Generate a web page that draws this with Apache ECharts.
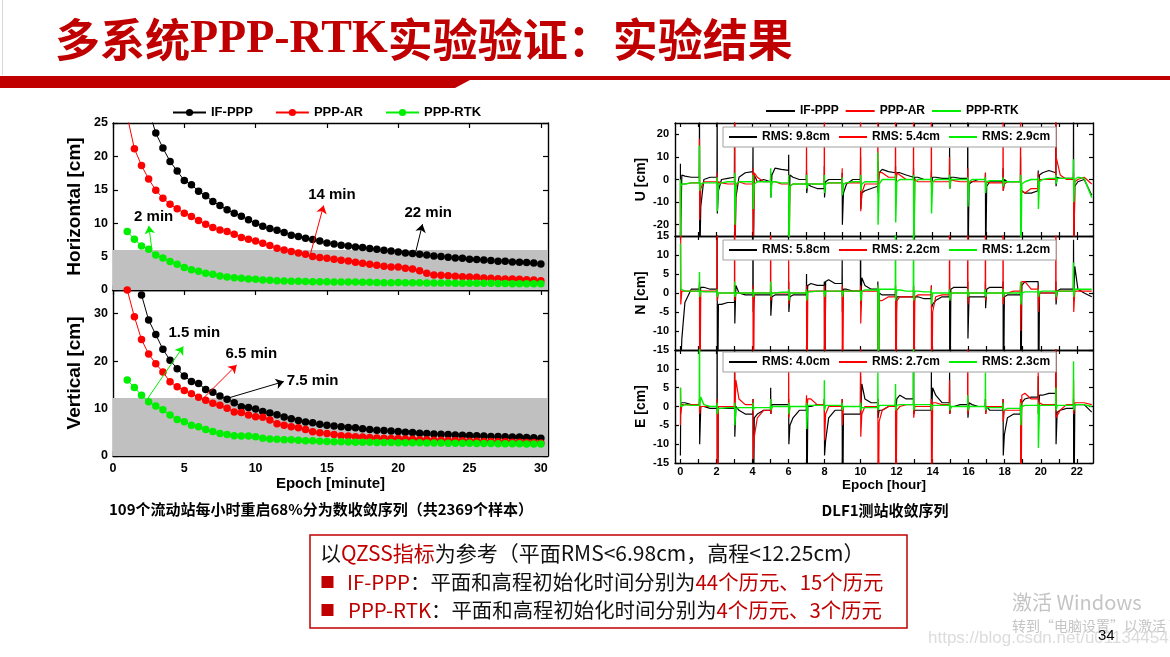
<!DOCTYPE html>
<html><head><meta charset="utf-8">
<script src="https://cdn.jsdelivr.net/npm/echarts@6.0.0/dist/echarts.min.js"></script>
<style>html,body{margin:0;padding:0;background:#fff;}#c{width:1170px;height:657px;}</style>
</head><body><div id="c"></div>
<script>
// ---------- Left chart: convergence (68% error) vs epoch [minute] ----------
const hEpoch = [1,1.5,2,2.5,3,3.5,4,4.5,5,5.5,6,6.5,7,7.5,8,8.5,9,9.5,10,10.5,11,11.5,12,12.5,13,13.5,14,14.5,15,15.5,16,16.5,17,17.5,18,18.5,19,19.5,20,20.5,21,21.5,22,22.5,23,23.5,24,24.5,25,25.5,26,26.5,27,27.5,28,28.5,29,29.5,30];
const horizIF  = [null,null,31,27,23.5,21.25,19.25,17.8,16.4,15.75,14.8,14.1,13.25,12.65,12.0,11.5,11.05,10.5,10.0,9.55,9.2,8.95,8.6,8.2,8.0,7.75,7.55,7.35,7.05,6.9,6.7,6.6,6.45,6.35,6.2,6.1,5.95,5.85,5.7,5.55,5.45,5.35,5.25,5.1,5.0,4.9,4.8,4.75,4.6,4.55,4.5,4.4,4.3,4.3,4.2,4.15,4.1,4.05,3.9];
const horizAR  = [26,21.15,18.65,16.6,14.95,13.75,12.85,12.15,11.5,11.0,10.4,9.85,9.35,9.0,8.75,8.35,7.85,7.6,7.35,7.0,6.65,6.25,6.0,5.75,5.55,5.35,5.0,4.85,4.75,4.6,4.45,4.35,4.15,4.0,3.85,3.7,3.55,3.45,3.45,3.25,3.15,2.9,2.5,2.25,2.2,2.15,2.05,2.0,1.95,1.9,1.8,1.75,1.7,1.65,1.65,1.6,1.55,1.5,1.4];
const horizRTK = [8.75,7.6,6.6,6.1,5.25,4.8,4.25,3.85,3.35,3.05,2.8,2.5,2.35,2.1,1.95,1.85,1.75,1.65,1.6,1.5,1.45,1.4,1.35,1.3,1.3,1.28,1.25,1.25,1.22,1.2,1.2,1.2,1.18,1.15,1.15,1.12,1.1,1.1,1.12,1.1,1.1,1.08,1.05,1.05,1.05,1.03,1.0,1.0,1.0,1.0,1.0,1.0,0.98,0.98,0.95,0.95,0.95,0.95,0.95];
const vertIF   = [null,null,33.95,28.65,25.6,22.5,20.2,18.4,16.85,15.7,15.3,14.0,13.45,12.65,11.95,11.25,10.4,10.25,9.9,9.4,9.05,8.7,8.2,7.85,7.5,7.15,7.0,6.7,6.5,6.3,6.15,6.0,5.95,5.75,5.6,5.45,5.4,5.25,5.15,5.0,4.95,4.8,4.75,4.65,4.6,4.55,4.45,4.4,4.3,4.25,4.2,4.1,4.1,4.05,4.0,4.0,3.9,3.85,3.75];
const vertAR   = [35,29.35,24.55,21.5,19.45,17.7,15.65,14.6,13.8,13.1,12.4,11.75,11.1,10.7,10.05,9.3,9.15,8.65,8.3,8.15,7.6,6.8,6.5,6.15,5.95,5.6,5.1,4.9,4.75,4.55,4.25,4.2,4.05,4.0,3.9,3.8,3.75,3.7,3.7,3.6,3.55,3.45,3.4,3.3,3.3,3.25,3.25,3.2,3.1,3.1,3.05,3.05,3.0,3.0,2.9,2.9,2.85,2.85,2.75];
const vertRTK  = [16.0,14.45,12.8,11.45,10.55,9.75,8.65,7.7,7.2,6.5,6.15,5.6,5.15,4.75,4.55,4.25,4.2,4.2,4.05,3.75,3.6,3.55,3.45,3.4,3.3,3.2,3.2,3.1,3.05,3.0,3.0,2.95,2.9,2.9,2.9,2.85,2.85,2.85,2.8,2.8,2.8,2.8,2.75,2.75,2.75,2.7,2.7,2.7,2.7,2.65,2.65,2.65,2.6,2.6,2.6,2.6,2.55,2.55,2.55];
const bandH = [0, 6];        // QZSS horizontal threshold band
const bandV = [0, 12.25];    // QZSS vertical threshold band
const minuteLabels = [0,5,10,15,20,25,30];
const horizLabels = [0,5,10,15,20,25];
const vertLabels = [0,10,20,30];
const hArrows = [{from:[2.72,6.15],to:[2.51,9.6],color:'#00ee00'},{from:[13.84,5.35],to:[14.77,12.65],color:'#ff0000'},{from:[21.23,5.75],to:[21.7,9.85],color:'#000000'}];
const hNotes  = [{text:'2 min',at:[2.85,10.95]},{text:'14 min',at:[15.35,14.2]},{text:'22 min',at:[22.1,11.5]}];
const vArrows = [{from:[2.44,12.17],to:[4.93,23.1],color:'#00ee00'},{from:[6.33,12.17],to:[8.67,19.2],color:'#ff0000'},{from:[8.02,12.17],to:[11.98,15.7],color:'#000000'}];
const vNotes  = [{text:'1.5 min',at:[5.7,26.0]},{text:'6.5 min',at:[9.7,21.5]},{text:'7.5 min',at:[14.0,15.9]}];

// ---------- Right chart: DLF1 time series [hour] ----------
const T = [
0,.01,.02,.08,.25,.6,
1.05,1.06,1.07,1.13,1.3,1.65,
2.03,2.04,2.05,2.11,2.28,2.63,
3,3.01,3.02,3.08,3.25,3.6,
4.02,4.03,4.04,4.1,4.27,4.62,
5,5.01,5.02,5.08,5.25,5.6,
6,6.01,6.02,6.08,6.25,6.6,
6.99,7,7.01,7.07,7.24,7.59,
7.98,7.99,8,8.06,8.23,8.58,
8.97,8.98,8.99,9.05,9.22,9.57,
9.99,10,10.01,10.07,10.24,10.59,
10.95,10.96,10.97,11.03,11.2,11.55,
11.93,11.94,11.95,12.01,12.18,12.53,
12.93,12.94,12.95,13.01,13.18,13.53,
13.92,13.93,13.94,14,14.17,14.52,
14.93,14.94,14.95,15.01,15.18,15.53,
15.94,15.95,15.96,16.02,16.19,16.54,
16.92,16.93,16.94,17,17.17,17.52,
17.9,17.91,17.92,17.98,18.15,18.5,
18.87,18.88,18.89,18.95,19.12,19.47,
19.85,19.86,19.87,19.93,20.1,20.45,
20.83,20.84,20.85,20.91,21.08,21.43,
21.81,21.82,21.83,21.89,22.06,22.41,
22.83];
const uIF = [7,-40,-20,2,1.5,1, 1,40,-40,-12,0,1, 1,40,-15,-5,0,0.5, 1,40,-40,-8,1,3, 3.5,18,-40,2,-1,0, -1,3,-8,2,5,4.5, 4,11,-25,2,1,0, 0,4,-6,-2,-3,-4, -4,6,-8,-1,0,0, 0,3,-20,-6,-2,0, 0,10,-13,-6,-5,-4, -3,8,-6,3,4.5,3.5, 3,6,-4,3,3,2, 1,5,-5,1,1,0, 0,4,-3,1,1,0.5, 0.5,14,-4,1,1,0.5, 0.5,40,-40,-2,-1,0, 0,3,-40,-3,-1,-1, -1,5,-5,0,-1,-1, -1,10,-8,-5,-6,-6, -5,4,-4,2,3,4, 3,40,-3,1,0.5,0.5, 0.5,40,-40,-3,-1,0, -7];
const uAR = [-5,-40,-3,-2,-2,-1.5, -1.5,18,-18,-4,-1,-1, -1,3,-3,-1,-1.5,-2, -2,40,-40,-3,-1,-2, -2,5,-40,3,1,-1, -1,2,-4,-1,-1,-2, -2,2,-40,-3,-2,-2, -2,23,-4,-2,-2,-2, -2,40,-5,-2,-1.5,-1.5, -1.5,5,-5,-2,-1.5,-1.5, -1.5,40,-14,-6,-2,-2, -2,40,-5,3,3,1, 1,40,-3,3,2,0, 0,40,-40,0,-1,-1, -1,40,-4,-1,-1,-1, -1,10,-4,0,-0.5,-1, -1,5,-5,-1,-1,-1, -1,3,-3,-1,-1.5,-1.5, -1.5,40,-5,-2,-1,-1, -1,40,-8,-5,-6,-4, -4,3,-3,0,0,0, 0,40,10,8,2,0, 0,3,-40,-1,0,1, -2];
const uRTK = [0,-40,-3,-2,-2,-1.5, -1.5,15,-5,-2,-1.5,-1.5, -1.5,1,-14,-2,-1.5,-1, -1,3,-20,-2,-1,-1, -1,2,-13,-2,-1,-1, -1,5,-8,-1,-1,-1.5, -1.5,2,-40,-3,-2,-2, -2,2,-4,-2,-2,-2, -2,2,-6,-2,-1.5,-1.5, -1.5,1,-7,-2,-1.5,-1, -1,2,-5,-2,-1,-1, -1,12,-20,-2,0,0, 0,2,-19,-1,0,0, 0,2,-40,-1,0,0, 0,1,-15,-1,0,0, 0,2,-4,0,0,0, 0,1,-12,-1,0,0, 0,1,-6,-1,-0.5,-0.5, -0.5,1,-3,-1,-1,-1, -1,2,-40,-2,-1,0, 0,1,-13,-1,0,0.5, 0.5,2,-2,0.5,0.5,0.5, 0.5,9,-10,0,1,0.5, -8];
const nIF = [-40,-40,-20,-12,-2.5,1, 1,3,-2,1.5,1.5,1, 1,40,-40,-3,-3,-2.5, -2.5,2,-8,2,0,-0.5, -0.5,40,-5,-0.5,-0.5,-0.5, -0.5,2,-6,-1,-0.5,-0.5, -0.5,3,-5,-1,-0.5,-0.5, -0.5,5,-3,2,2.5,2, 2,3,-40,3,3.5,2.5, 2.5,9,-5,1,1,0.5, 0.5,40,-3,4,2,1, 1,3,-40,0,-0.5,-0.5, -0.5,2,-13,-1,-1,-1, -1,2,-5,-1,-1,-1.5, -1.5,2,-4,-3,-2,-1, -1,3,-40,1,1.5,1.5, 1.5,3,-12,-1,-1,-1, -1,3,-4,1,1.5,1.5, 1.5,3,-40,-1,-0.5,-0.5, -0.5,2,-40,2,3,3, 3,2,-40,0,0,0, 0,3,-3,0.5,1,1, 1,14,-2,7,1,0, -1];
const nAR = [15,40,-3,0.5,0.5,0.5, 0.5,2,-40,0.5,0.5,0.5, 0.5,40,-2,0,0,0, 0,40,-2,0,0,0, 0,2,-40,0,0,0, 0,40,-2,0,0,0, 0,10,-3,0,0,0, 0,2,-40,0.5,0.5,0.5, 0.5,2,-40,0.5,0.5,0.5, 0.5,2,-40,0.5,0.5,0.5, 0.5,2,-8,0.5,0.5,0.5, 0.5,2,-40,-2,-2,-1, -1,2,-40,-2,-1,-1, -1,2,-40,-1,-0.5,-0.5, -0.5,2,-40,-5,-1,-0.5, -0.5,40,-2,0,0,0, 0,40,-3,0,0,0, 0,40,-2,0,0,0, 0,40,-3,0,0,0.5, 0.5,2,-10,3,3,1, 1,2,-5,0,0,0, 0,40,-2,0.5,0.5,0.5, 0.5,2,-5,0.5,0.5,0.5, 0.5];
const nRTK = [13,13,1,0.5,0.5,0.5, 0.5,5.5,-1,0.5,0.3,0.3, 0.3,1,-1,0,0,0, 0,3,-1,0,0,0, 0,1,-1,0,0,0, 0,3,-1,0,0,0.2, 0.2,1,-2,0,0,0, 0,1,-2,0.3,0.3,0.5, 0.5,1,-1,0.5,0.5,0.5, 0.5,1,-1,0.5,0.5,0.5, 0.5,1,-2,0.5,0.8,0.8, 0.8,2,-40,1,1,1, 1,40,-2,0.8,0.8,0.5, 0.5,40,-2,0.5,0.5,0.3, 0.3,1,-3,0,0,0, 0,1,-2,0,0,0, 0,1,-1,0,0,0, 0,1,-1,0,0,0, 0,1,-1,0,0,0, 0,3,-3,0,0.3,0.3, 0.3,1,-1,0.3,0.5,0.5, 0.5,1,-1,0.5,0.5,0.5, 0.5,8,-1,1,1,1, 1];
const eIF = [-13,-5,1,1,1,0.5, 0.5,2,-10,0,0,-0.5, -0.5,40,-40,-0.5,-0.5,-0.5, -0.5,40,-8,0,-1,-2, -2,2,-40,-3,-2,-1, -1,5,-2,0.5,0.5,0.5, 0.5,2,-10,-5,-3,-1, -1,2,-40,0,0,0.5, 0.5,2,-13,-9,-3,-1, -1,2,-40,-2,-2,-2, -2,8,-2,6,2,1, 1,2,-3,-1,-1,0, 0,2,-2,2,3,2, 2,40,-2,-1,-1,-1, -1,10,-2,5,3,1, 1,9,-2,0,0,0.5, 0.5,2,-3,1,0.5,0, 0,2,-2,0,-1,-1, -1,2,-13,-7.5,-3,-2, -2,2,-4,1,2,2.5, 2.5,8,-2,3,3,3.5, 3.5,40,-10,-1.5,-1,-0.5, -0.5,2,-40,0.5,0.5,0.5, -1.5];
const eAR = [-5,5,-2,0.5,0.5,0.5, 0.5,2,-2,0,0,0, 0,2,-40,0,0,0, 0,10,-2,7,2,0.5, 0.5,2,-14,-8,-3,-1, -1,2,-2,0,0,0, 0,11,-3,0,0,0, 0,3,-2,2,2,0.5, 0.5,2,-9,-2,0,0, 0,2,-5,0,0,0, 0,40,-8,-2,0,0, 0,2,-40,-4,-1,0, 0,2,-40,-1,0,0.5, 0.5,2,-3,0,0,0, 0,2,-40,1,1,0.5, 0.5,7,-2,0,0,0, 0,40,-2,0,0,0, 0,2,-2,0,0,0, 0,2,-4,-1,-1,-1, -1,2,-40,3,3.5,2, 2,9,-2,1,0.5,0.5, 0.5,40,-3,-3,-1,0.5, 0.5,7,-2,1,1,1, 0.5];
const eRTK = [5,5,0,0.5,0.5,0.3, 0.3,40,0,2.5,0.5,0, 0,1,-2,-0.5,-0.5,-0.3, -0.3,1,-5,-0.5,-0.3,-0.3, -0.3,1,-1,-0.3,-0.3,-0.3, -0.3,2,-1,0,0,0, 0,1,-2,0,0,0, 0,1,-6,0.3,0.3,0.3, 0.3,7,-1,0.3,0.3,0.3, 0.3,1,-1,0,0,0, 0,1,-1,-0.3,-0.3,-0.3, -0.3,9,-1,0.3,0.3,0.3, 0.3,6,-1,0.3,0.5,0.5, 0.5,40,-1,0.5,0.5,0.5, 0.5,1,-1,0.3,0.3,0.3, 0.3,1,-1,0,0,0, 0,3,-1,0,0,0, 0,9,-1,-0.3,-0.3,-0.3, -0.3,1,-1,-0.5,-0.5,-0.5, -0.5,1,-5,0,0.3,0.3, 0.3,1,-11,0.3,0.3,0.3, 0.3,5,-1,0.3,0.3,0.3, 0.3,12,-1,0.5,0.5,0.5, 0];
const hourLabels = [0,2,4,6,8,10,12,14,16,18,20,22];
const hourTicks = [0,1,2,3,4,5,6,7,8,9,10,11,12,13,14,15,16,17,18,19,20,21,22];
const uLabels = [-20,-10,0,10,20];
const nLabels = [-15,-10,-5,0,5,10,15];
const eLabels = [-15,-10,-5,0,5,10];
const methodNames = ['IF-PPP','PPP-AR','PPP-RTK'];
const rmsU = ['RMS: 9.8cm','RMS: 5.4cm','RMS: 2.9cm'];
const rmsN = ['RMS: 5.8cm','RMS: 2.2cm','RMS: 1.2cm'];
const rmsE = ['RMS: 4.0cm','RMS: 2.7cm','RMS: 2.3cm'];

// ---------- build ----------
const LAT = "'Liberation Sans', Arial, sans-serif";
const CJK = "'Noto Sans CJK SC', sans-serif";
const COLORS = ['#000000', '#ff0000', '#00ee00'];
const zip = (xs, ys) => xs.map((x, i) => [x, ys[i] == null ? null : ys[i]]);

const grids = [
  {left:113, top:123, width:435, height:167},
  {left:113, top:290, width:435, height:166},
  {left:675, top:123, width:418, height:113},
  {left:675, top:236, width:418, height:114},
  {left:675, top:350, width:418, height:113}
];
const xAxes = [], yAxes = [];
function frame(gi, xr, xLab, xTk, yr, yLab, yTk, c) {
  const line = {show:true, onZero:false, lineStyle:{color:'#000', width:1.4}};
  const tick = (v) => ({show:true, inside:true, length:c.tl, customValues:v, lineStyle:{color:'#000', width:1.2}});
  const lab = (show, v, m) => ({show, customValues:v, color:'#000', fontWeight:'bold', fontSize:c.fs, fontFamily:LAT, margin:m});
  const nameStyle = (fs) => ({color:'#000', fontWeight:'bold', fontSize:fs, fontFamily:LAT});
  xAxes.push({type:'value', gridIndex:gi, min:xr[0], max:xr[1], position:'bottom', axisLine:line, axisTick:tick(xTk),
    axisLabel:lab(!!c.xName, xLab, c.xm), splitLine:{show:false},
    name:c.xName || '', nameLocation:'middle', nameGap:c.xGap || 0, nameTextStyle:nameStyle(c.xfs || 14)});
  xAxes.push({type:'value', gridIndex:gi, min:xr[0], max:xr[1], position:'top', axisLine:line, axisTick:tick(xTk),
    axisLabel:{show:false}, splitLine:{show:false}});
  yAxes.push({type:'value', gridIndex:gi, min:yr[0], max:yr[1], position:'left', axisLine:line, axisTick:tick(yTk),
    axisLabel:lab(true, yLab, c.ym), splitLine:{show:false},
    name:c.yName, nameLocation:'middle', nameGap:c.yGap, nameRotate:90, nameTextStyle:nameStyle(c.yfs)});
  yAxes.push({type:'value', gridIndex:gi, min:yr[0], max:yr[1], position:'right', axisLine:line, axisTick:tick(yTk),
    axisLabel:{show:false}, splitLine:{show:false}});
}
frame(0, [0,30.5], minuteLabels, minuteLabels, [0,25], horizLabels, horizLabels, {tl:5, fs:12.5, xm:6, ym:5, yName:'Horizontal [cm]', yGap:29, yfs:19});
frame(1, [0,30.5], minuteLabels, minuteLabels, [0,35], vertLabels, vertLabels, {tl:5, fs:12.5, xm:6, ym:5, xName:'Epoch [minute]', xGap:18, xfs:15, yName:'Vertical [cm]', yGap:29, yfs:19});
frame(2, [-0.3,22.9], hourLabels, hourTicks, [-25,25], uLabels, uLabels, {tl:4, fs:11, xm:3, ym:6, yName:'U [cm]', yGap:27, yfs:14});
frame(3, [-0.3,22.9], hourLabels, hourTicks, [-15,15], nLabels, nLabels, {tl:4, fs:11, xm:3, ym:6, yName:'N [cm]', yGap:27, yfs:14});
frame(4, [-0.3,22.9], hourLabels, hourTicks, [-15,15], eLabels, nLabels, {tl:4, fs:11, xm:3, ym:6, xName:'Epoch [hour]', xGap:14, xfs:13.5, yName:'E [cm]', yGap:27, yfs:14});

const series = [];
function band(gi, b) {
  series.push({type:'line', xAxisIndex:2*gi, yAxisIndex:2*gi, data:[], z:1, silent:true,
    markArea:{silent:true, itemStyle:{color:'#c0c0c0'}, data:[[{yAxis:b[0]},{yAxis:b[1]}]]}});
}
function anno(gi, arrows, notes) {
  series.push({type:'line', xAxisIndex:2*gi, yAxisIndex:2*gi, data:[], z:10, silent:true,
    markLine:{silent:true, symbol:['none','arrow'], symbolSize:8, label:{show:false}, animation:false,
      data: arrows.map(a => [{coord:a.from, lineStyle:{color:a.color, width:1, type:'solid'}, itemStyle:{color:a.color}}, {coord:a.to}])},
    markPoint:{silent:true, symbol:'circle', symbolSize:1, itemStyle:{color:'rgba(0,0,0,0)'}, animation:false,
      label:{show:true, position:'inside', formatter:p => p.name, color:'#000', fontWeight:'bold', fontSize:15, fontFamily:LAT},
      data: notes.map(n => ({name:n.text, coord:n.at}))}});
}
function dots(gi, arrs) {
  arrs.forEach((a, k) => series.push({name:methodNames[k], type:'line', xAxisIndex:2*gi, yAxisIndex:2*gi,
    data:zip(hEpoch, a), symbol:'circle', symbolSize:7.5, showAllSymbol:true, lineStyle:{color:COLORS[k], width:1},
    itemStyle:{color:COLORS[k]}, z:3, emphasis:{disabled:true}}));
}
function traces(gi, prefix, arrs) {
  arrs.forEach((a, k) => series.push({name:prefix + k, type:'line', xAxisIndex:2*gi, yAxisIndex:2*gi,
    data:zip(T, a), symbol:'none', lineStyle:{color:COLORS[k], width:k === 2 ? 1.4 : 1.2}, itemStyle:{color:COLORS[k]},
    z:3, emphasis:{disabled:true}}));
}
band(0, bandH); band(1, bandV);
dots(0, [horizIF, horizAR, horizRTK]);
dots(1, [vertIF, vertAR, vertRTK]);
anno(0, hArrows, hNotes); anno(1, vArrows, vNotes);
traces(2, 'U', [uIF, uAR, uRTK]);
traces(3, 'N', [nIF, nAR, nRTK]);
traces(4, 'E', [eIF, eAR, eRTK]);

const legTxt = (fs) => ({fontFamily:LAT, fontWeight:'bold', fontSize:fs, color:'#000'});
const rectItems = (p) => [0,1,2].map(k => ({name:p + k, icon:'rect'}));
const legends = [
  {data:methodNames, left:172, top:106, itemWidth:33, itemHeight:9, itemGap:22, padding:0, selectedMode:false, textStyle:legTxt(13)},
  {data:rectItems('U'), formatter:n => methodNames[+n.slice(1)], left:766, top:105, itemWidth:29, itemHeight:2, itemGap:7, padding:0, selectedMode:false, textStyle:legTxt(12)},
  {data:rectItems('U'), formatter:n => rmsU[+n.slice(1)], left:723, top:127, itemWidth:28, itemHeight:2, itemGap:9, padding:[4,6], selectedMode:false, textStyle:legTxt(12), borderColor:'#a0a0a0', borderWidth:1, backgroundColor:'#fff'},
  {data:rectItems('N'), formatter:n => rmsN[+n.slice(1)], left:723, top:240, itemWidth:28, itemHeight:2, itemGap:9, padding:[4,6], selectedMode:false, textStyle:legTxt(12), borderColor:'#a0a0a0', borderWidth:1, backgroundColor:'#fff'},
  {data:rectItems('E'), formatter:n => rmsE[+n.slice(1)], left:723, top:352, itemWidth:28, itemHeight:2, itemGap:9, padding:[4,6], selectedMode:false, textStyle:legTxt(12), borderColor:'#a0a0a0', borderWidth:1, backgroundColor:'#fff'}
];

const RED = '#c00000';
const bodyFs = 21;
const subFs = 20.4;
const graphics = [
  {type:'line', shape:{x1:2.5, y1:0, x2:2.5, y2:75}, style:{stroke:'#d8d8d8', lineWidth:1}},
  {type:'text', x:55, y:40, style:{text:'{a|多系统}{b|PPP-RTK}{a|实验验证：实验结果}', verticalAlign:'middle',
    rich:{a:{fontFamily:CJK, fontWeight:'bold', fontSize:45, fill:RED}, b:{fontFamily:"'Liberation Serif', serif", fontWeight:'bold', fontSize:46, fill:RED}}}},
  {type:'polygon', shape:{points:[[0,76],[1170,76],[1170,80],[470,80],[455,88],[0,88]]}, style:{fill:RED}},
  {type:'text', x:321, y:509, style:{text:'109个流动站每小时重启68%分为数收敛序列（共2369个样本）', align:'center', verticalAlign:'middle', fontFamily:CJK, fontWeight:'bold', fontSize:15, fill:'#000'}},
  {type:'text', x:885, y:510, style:{text:'DLF1测站收敛序列', align:'center', verticalAlign:'middle', fontFamily:CJK, fontWeight:'bold', fontSize:15, fill:'#000'}},
  {type:'rect', shape:{x:310, y:535, width:597, height:93}, style:{fill:'none', stroke:RED, lineWidth:1.5}},
  {type:'text', x:320, y:553, style:{text:'以{r|QZSS指标}为参考（平面RMS<6.98cm，高程<12.25cm）', verticalAlign:'middle', fontFamily:CJK, fontSize:bodyFs, fill:'#111',
    rich:{r:{fill:RED, fontFamily:CJK, fontSize:bodyFs}}}},
  {type:'text', x:320, y:582, style:{text:'■', verticalAlign:'middle', fontFamily:CJK, fontSize:15, fill:RED}},
  {type:'text', x:347, y:582, style:{text:'{r|IF-PPP}：平面和高程初始化时间分别为{r|44个历元、15个历元}', verticalAlign:'middle', fontFamily:CJK, fontSize:subFs, fill:'#111',
    rich:{r:{fill:RED, fontFamily:CJK, fontSize:subFs}}}},
  {type:'text', x:320, y:610, style:{text:'■', verticalAlign:'middle', fontFamily:CJK, fontSize:15, fill:RED}},
  {type:'text', x:348, y:610, style:{text:'{r|PPP-RTK}：平面和高程初始化时间分别为{r|4个历元、3个历元}', verticalAlign:'middle', fontFamily:CJK, fontSize:subFs, fill:'#111',
    rich:{r:{fill:RED, fontFamily:CJK, fontSize:subFs}}}},
  {type:'text', x:1012, y:602, style:{text:'激活 Windows', verticalAlign:'middle', fontFamily:CJK, fontSize:20, fill:'#c4c4c4'}},
  {type:'text', x:1012, y:626, style:{text:'转到“电脑设置”以激活 Windows。', verticalAlign:'middle', fontFamily:CJK, fontSize:14, fill:'#c4c4c4'}},
  {type:'text', x:928, y:638, style:{text:'https://blog.csdn.net/u011344545', verticalAlign:'middle', fontFamily:LAT, fontSize:17, fill:'#dcdcdc'}},
  {type:'text', x:1098, y:636, style:{text:'34', verticalAlign:'middle', fontFamily:LAT, fontSize:15, fill:'#000'}}
];

const chart = echarts.init(document.getElementById('c'), null, {renderer:'canvas'});
chart.setOption({
  animation:false,
  backgroundColor:'#ffffff',
  textStyle:{fontFamily:LAT},
  grid:grids,
  xAxis:xAxes,
  yAxis:yAxes,
  legend:legends,
  series:series,
  graphic:{elements:graphics}
});
</script></body></html>
